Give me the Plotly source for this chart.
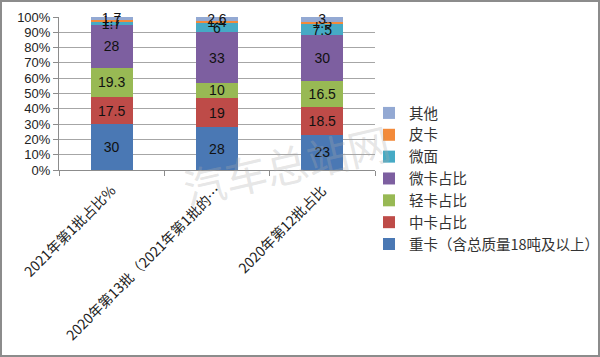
import plotly.graph_objects as go

categories = ["2021年第1批占比%", "2020年第13批（2021年第1批的…", "2020年第12批占比"]
series_names = ["重卡（含总质量18吨及以上）", "中卡占比", "轻卡占比", "微卡占比", "微面", "皮卡", "其他"]
heavy = [30, 28, 23]
medium = [17.5, 19, 18.5]
light = [19.3, 10, 16.5]
mini = [28, 33, 30]
minivan = [1.7, 6, 7.5]
pickup = [1.7, 1.4, 1.5]
other = [1.7, 2.6, 3]
values = [heavy, medium, light, mini, minivan, pickup, other]
colors = ["#4A78B4", "#BE4B48", "#98B954", "#7D5FA0", "#46AAC5", "#F38A3A", "#93A9D3"]

fig = go.Figure()
for name, vals, col in zip(series_names, values, colors):
    fig.add_trace(go.Bar(
        x=categories, y=vals, name=name, marker=dict(color=col, line=dict(width=0)),
        text=[f"{v:g}" for v in vals], textposition="inside", insidetextanchor="middle",
        textangle=0, textfont=dict(family="Liberation Sans, Noto Sans", size=14, color="#111111"),
        cliponaxis=False,
    ))

L, R, T, B = 59, 225, 17, 187
W, H = 600, 357
pw, ph = W - L - R, H - T - B

fig.update_layout(
    barmode="stack", barnorm="percent", bargap=0.6,
    width=W, height=H,
    margin=dict(l=L, r=R, t=T, b=B, pad=0, autoexpand=False),
    paper_bgcolor="white", plot_bgcolor="white",
    uniformtext=dict(minsize=13, mode="show"),
    font=dict(family="Liberation Sans, Noto Sans CJK SC", color="#222222"),
    legend=dict(
        x=(369 - L) / pw, y=(H - B - 97) / ph, xanchor="left", yanchor="top",
        traceorder="reversed", font=dict(family="Noto Sans CJK SC", size=14.5, color="#333333"),
        bgcolor="rgba(0,0,0,0)", itemwidth=30, maxheight=300,
    ),
    showlegend=True,
)
fig.update_yaxes(
    range=[0, 100], dtick=10, ticksuffix="%", showgrid=True, gridcolor="#A6A6A6", gridwidth=1,
    showline=True, linecolor="#8C8C8C", linewidth=1, ticks="outside", ticklen=5, tickcolor="#8C8C8C",
    tickfont=dict(family="Liberation Sans", size=13, color="#222222"), zeroline=False,
    automargin=False,
)
fig.update_xaxes(
    showline=True, linecolor="#8C8C8C", linewidth=1, ticks="outside", ticklen=5, tickcolor="#8C8C8C",
    tickson="boundaries", tickangle=-45, automargin=False, ticklabelshift=0, ticklabelstandoff=6,
    tickfont=dict(family="Noto Sans CJK SC", size=14, color="#222222"),
)
# watermark
fig.add_annotation(
    text="汽车总站网", xref="paper", yref="paper",
    x=(286 - L) / pw, y=(H - B - 163) / ph, xanchor="center", yanchor="middle",
    showarrow=False, textangle=-13,
    font=dict(family="Noto Sans CJK SC", size=42, color="rgba(170,170,170,0.3)"),
)
# outer border
fig.add_shape(
    type="rect", xref="paper", yref="paper",
    x0=(1 - L) / pw, x1=(W - 1 - L) / pw, y0=(-(B - 1)) / ph, y1=(ph + T - 1) / ph,
    line=dict(color="#8C8C8C", width=2), fillcolor="rgba(0,0,0,0)", layer="above",
)

fig.write_html(
    "out.html",
    config={"displayModeBar": False},
    post_script="document.body.style.margin='0';document.body.style.overflow='hidden';",
)
